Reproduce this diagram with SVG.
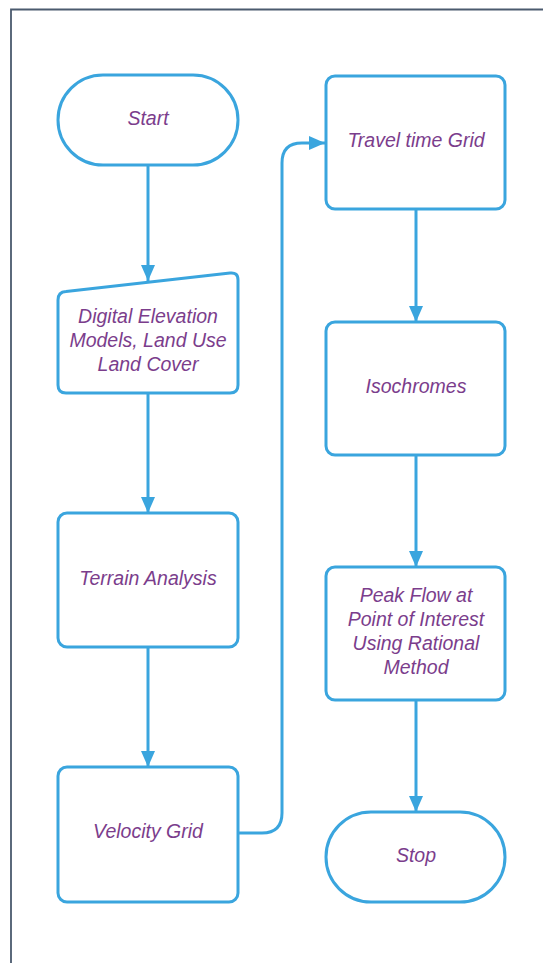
<svg xmlns="http://www.w3.org/2000/svg" width="543" height="963" viewBox="0 0 543 963">
<defs>
<style>
.n{fill:#fff;stroke:#3aa5de;stroke-width:3}
.c{fill:none;stroke:#3aa5de;stroke-width:3}
.t{font-family:"Liberation Sans",Arial,sans-serif;font-style:italic;font-size:19.5px;fill:#7b3d8c;text-anchor:middle}
</style>
<marker id="ah" viewBox="0 0 16 14" refX="16" refY="7" markerWidth="16" markerHeight="14" markerUnits="userSpaceOnUse" orient="auto">
<path d="M0,0 L16,7 L0,14 Z" fill="#3aa5de"/>
</marker>
</defs>
<rect width="543" height="963" fill="#fff"/>
<path d="M11,963 V9.5 H543" fill="none" stroke="#4b5a6e" stroke-width="1.8"/>
<g id="connectors">
<path class="c" d="M148,165 V281" marker-end="url(#ah)"/>
<path class="c" d="M148,393 V513" marker-end="url(#ah)"/>
<path class="c" d="M148,647 V767" marker-end="url(#ah)"/>
<path class="c" d="M238,833 H262 Q282,833 282,813 V163 Q282,143 302,143 H325" marker-end="url(#ah)"/>
<path class="c" d="M416,209 V322" marker-end="url(#ah)"/>
<path class="c" d="M416,455 V567" marker-end="url(#ah)"/>
<path class="c" d="M416,700 V812" marker-end="url(#ah)"/>
</g>
<g id="start">
<rect class="n" x="58" y="75" width="180" height="90" rx="45"/>
<text class="t" x="148" y="125">Start</text>
</g>
<g id="dem">
<path class="n" d="M66,291.5 L230,273 Q238,272 238,280 V385 Q238,393 230,393 H66 Q58,393 58,385 V300 Q58,292 66,291.5 Z"/>
<text class="t" x="148" y="323">Digital Elevation</text>
<text class="t" x="148" y="347">Models, Land Use</text>
<text class="t" x="148" y="371">Land Cover</text>
</g>
<g id="terrain">
<rect class="n" x="58" y="513" width="180" height="134" rx="9"/>
<text class="t" x="148" y="585">Terrain Analysis</text>
</g>
<g id="velocity">
<rect class="n" x="58" y="767" width="180" height="135" rx="9"/>
<text class="t" x="148" y="838">Velocity Grid</text>
</g>
<g id="travel">
<rect class="n" x="326" y="76" width="179" height="133" rx="9"/>
<text class="t" x="416" y="147">Travel time Grid</text>
</g>
<g id="iso">
<rect class="n" x="326" y="322" width="179" height="133" rx="9"/>
<text class="t" x="416" y="393">Isochromes</text>
</g>
<g id="peak">
<rect class="n" x="326" y="567" width="179" height="133" rx="9"/>
<text class="t" x="416" y="602">Peak Flow at</text>
<text class="t" x="416" y="626">Point of Interest</text>
<text class="t" x="416" y="650">Using Rational</text>
<text class="t" x="416" y="674">Method</text>
</g>
<g id="stop">
<rect class="n" x="326" y="812" width="179" height="90" rx="45"/>
<text class="t" x="416" y="862">Stop</text>
</g>
</svg>
